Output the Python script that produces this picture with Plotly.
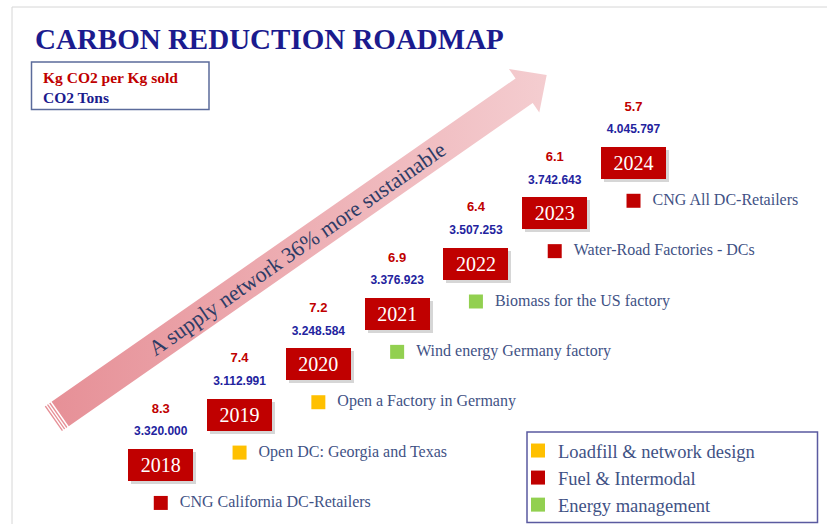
import math
import plotly.graph_objects as go

# ---------------- data ----------------
years = [2018, 2019, 2020, 2021, 2022, 2023, 2024]
kg_co2_per_kg_sold = [8.3, 7.4, 7.2, 6.9, 6.4, 6.1, 5.7]
co2_tons = [3320000, 3112991, 3248584, 3376923, 3507253, 3742643, 4045797]
initiatives = [
    "CNG California DC-Retailers",
    "Open DC: Georgia and Texas",
    "Open a Factory in Germany",
    "Wind energy Germany factory",
    "Biomass for the US factory",
    "Water-Road Factories - DCs",
    "CNG All DC-Retailers",
]
initiative_category = [
    "Fuel & Intermodal",
    "Loadfill & network design",
    "Loadfill & network design",
    "Energy management",
    "Energy management",
    "Fuel & Intermodal",
    "Fuel & Intermodal",
]
categories = ["Loadfill & network design", "Fuel & Intermodal", "Energy management"]
category_colors = ["#FFC000", "#C00000", "#92D050"]
title_text = "CARBON REDUCTION ROADMAP"
subtitle_lines = ["Kg CO2 per Kg sold", "CO2 Tons"]
arrow_text = "A supply network 36% more sustainable"

# ---------------- layout helpers ----------------
W, H = 827, 524
PX_X = 78.79   # px per year on the data axis
PX_Y = 50.36   # px per step on the data axis
steps = list(range(len(years)))
x_range = [2021 - 397.14 / PX_X, 2021 + (W - 397.14) / PX_X]
y_range = [3 - (H - 313.86) / PX_Y, 3 + 313.86 / PX_Y]

BOX_W = 65 / PX_X
BOX_H = 32 / PX_Y
SERIF = "Liberation Serif"
SANS = "Liberation Sans"
TEXT_BLUE = "#3F5285"

fig = go.Figure()

# ---------------- arrow (decoration, pixel axes) ----------------
tail = (53.3, 418.7)
tip = (546.7, 75.0)
dx, dy = tip[0] - tail[0], tip[1] - tail[1]
L = math.hypot(dx, dy)
u = (dx / L, dy / L)
n = (-u[1], u[0])
hw, hh, hl = 15.0, 26.5, 27.5
J = (tip[0] - u[0] * hl, tip[1] - u[1] * hl)

def pt(base, a, b):
    return (base[0] + u[0] * a + n[0] * b, base[1] + u[1] * a + n[1] * b)

poly = [pt(tail, 0, -hw), pt(J, 0, -hw), pt(J, 0, -hh), tip,
        pt(J, 0, hh), pt(J, 0, hw), pt(tail, 0, hw), pt(tail, 0, -hw)]
fig.add_trace(go.Scatter(
    x=[p[0] for p in poly], y=[p[1] for p in poly], xaxis="x", yaxis="y",
    mode="lines", fill="toself", line=dict(width=0, color="rgba(0,0,0,0)"),
    fillgradient=dict(type="horizontal",
                      colorscale=[[0, "#E68F96"], [1, "#F4CDD0"]]),
    hoverinfo="skip", showlegend=False))

sx, sy = [], []
for a in (2.0, 4.7, 7.6):
    p1, p2 = pt(tail, a, -hw - 1), pt(tail, a, hw + 1)
    sx += [p1[0], p2[0], None]
    sy += [p1[1], p2[1], None]
fig.add_trace(go.Scatter(x=sx, y=sy, xaxis="x", yaxis="y", mode="lines",
                         line=dict(color="white", width=1.4),
                         hoverinfo="skip", showlegend=False))

angle = math.degrees(math.atan2(-dy, dx))
mid = pt(tail, 297.5, 0)

# ---------------- year boxes (data axes) ----------------
fig.add_trace(go.Bar(
    x=years, y=[BOX_H] * len(years),
    base=[s - BOX_H / 2 - 3 / PX_Y for s in steps],
    width=BOX_W, offset=-BOX_W / 2 + 3 / PX_X,
    marker=dict(color="rgba(0,0,0,0.16)", line=dict(width=0)),
    xaxis="x2", yaxis="y2", hoverinfo="skip", showlegend=False))
fig.add_trace(go.Bar(
    x=years, y=[BOX_H] * len(years),
    base=[s - BOX_H / 2 for s in steps],
    width=BOX_W,
    marker=dict(color="#C00000", line=dict(width=0)),
    text=[str(y) for y in years], textposition="inside",
    insidetextanchor="middle", constraintext="none", textangle=0,
    textfont=dict(family=SERIF, size=20, color="white"),
    xaxis="x2", yaxis="y2", hoverinfo="skip", showlegend=False))

# ---------------- values above boxes ----------------
fig.add_trace(go.Scatter(
    x=years, y=[s + 55.5 / PX_Y for s in steps], mode="text",
    text=[f"{v:.1f}" for v in kg_co2_per_kg_sold],
    textfont=dict(family=SANS, size=13, color="#C00000", weight="bold"),
    xaxis="x2", yaxis="y2", hoverinfo="skip", showlegend=False))
fig.add_trace(go.Scatter(
    x=years, y=[s + 32.5 / PX_Y for s in steps], mode="text",
    text=[f"{v:,}".replace(",", ".") for v in co2_tons],
    textfont=dict(family=SANS, size=12, color="#23239E", weight="bold"),
    xaxis="x2", yaxis="y2", hoverinfo="skip", showlegend=False))

# ---------------- initiatives (markers by category -> legend) ----------------
INIT_DY = 38 / PX_Y
for cat, col in zip(categories, category_colors):
    idx = [i for i, c in enumerate(initiative_category) if c == cat]
    fig.add_trace(go.Scatter(
        x=[years[i] for i in idx], y=[steps[i] - INIT_DY for i in idx],
        mode="markers", name=cat, legendgroup=cat,
        marker=dict(symbol="square", size=14, color=col, line=dict(width=0)),
        xaxis="x2", yaxis="y2", hoverinfo="skip"))
fig.add_trace(go.Scatter(
    x=[y + 19 / PX_X for y in years], y=[s - INIT_DY for s in steps],
    mode="text", text=initiatives, textposition="middle right",
    textfont=dict(family=SERIF, size=16, color=TEXT_BLUE),
    xaxis="x2", yaxis="y2", hoverinfo="skip", showlegend=False))

# ---------------- annotations ----------------
annotations = [
    dict(x=33, y=39, xref="x", yref="y", text=f"<b>{title_text}</b>",
         showarrow=False, xanchor="left", yanchor="middle",
         font=dict(family=SERIF, size=29, color="#1B1B8E")),
    dict(x=41, y=77, xref="x", yref="y", text=f"<b>{subtitle_lines[0]}</b>",
         showarrow=False, xanchor="left", yanchor="middle",
         font=dict(family=SERIF, size=15.5, color="#C00000")),
    dict(x=41, y=97, xref="x", yref="y", text=f"<b>{subtitle_lines[1]}</b>",
         showarrow=False, xanchor="left", yanchor="middle",
         font=dict(family=SERIF, size=15.5, color="#1B1B8E")),
    dict(x=mid[0], y=mid[1], xref="x", yref="y", text=arrow_text,
         showarrow=False, xanchor="center", yanchor="middle", textangle=-angle,
         font=dict(family=SERIF, size=22, color="#2E3C66")),
]

shapes = [
    dict(type="line", xref="x", yref="y", x0=12, y0=7, x1=W, y1=7,
         line=dict(color="#D6D6D6", width=1)),
    dict(type="line", xref="x", yref="y", x0=12, y0=7, x1=12, y1=H,
         line=dict(color="#D6D6D6", width=1)),
    dict(type="rect", xref="x", yref="y", x0=31.5, y0=62, x1=209, y1=109.5,
         line=dict(color="#5B6B9B", width=1.5)),
    dict(type="rect", xref="x", yref="y", x0=527, y0=432, x1=817.5, y1=522.5,
         line=dict(color="#5A5AA0", width=1.5)),
]

fig.update_layout(
    width=W, height=H, margin=dict(l=0, r=0, t=0, b=0),
    paper_bgcolor="white", plot_bgcolor="white",
    barmode="overlay", bargap=0,
    xaxis=dict(range=[0, W], visible=False, fixedrange=True),
    yaxis=dict(range=[H, 0], visible=False, fixedrange=True),
    xaxis2=dict(range=x_range, visible=False, overlaying="x", anchor="y2",
                fixedrange=True),
    yaxis2=dict(range=y_range, visible=False, overlaying="y", anchor="x2",
                fixedrange=True),
    annotations=annotations, shapes=shapes,
    showlegend=True,
    legend=dict(x=518 / W, y=0, xanchor="left", yanchor="bottom",
                bgcolor="rgba(0,0,0,0)", borderwidth=0,
                font=dict(family=SERIF, size=18.5, color=TEXT_BLUE),
                traceorder="grouped", tracegroupgap=0),
)

fig.write_html(
    "out.html",
    config={"displayModeBar": False, "staticPlot": True},
    post_script=(
        "document.documentElement.style.margin='0';"
        "document.documentElement.style.overflow='hidden';"
        "document.body.style.margin='0';"
        "document.body.style.overflow='hidden';"
        "document.querySelectorAll('.plotly-graph-div').forEach(function(d){"
        "d.style.overflow='hidden';});"
    ),
)
